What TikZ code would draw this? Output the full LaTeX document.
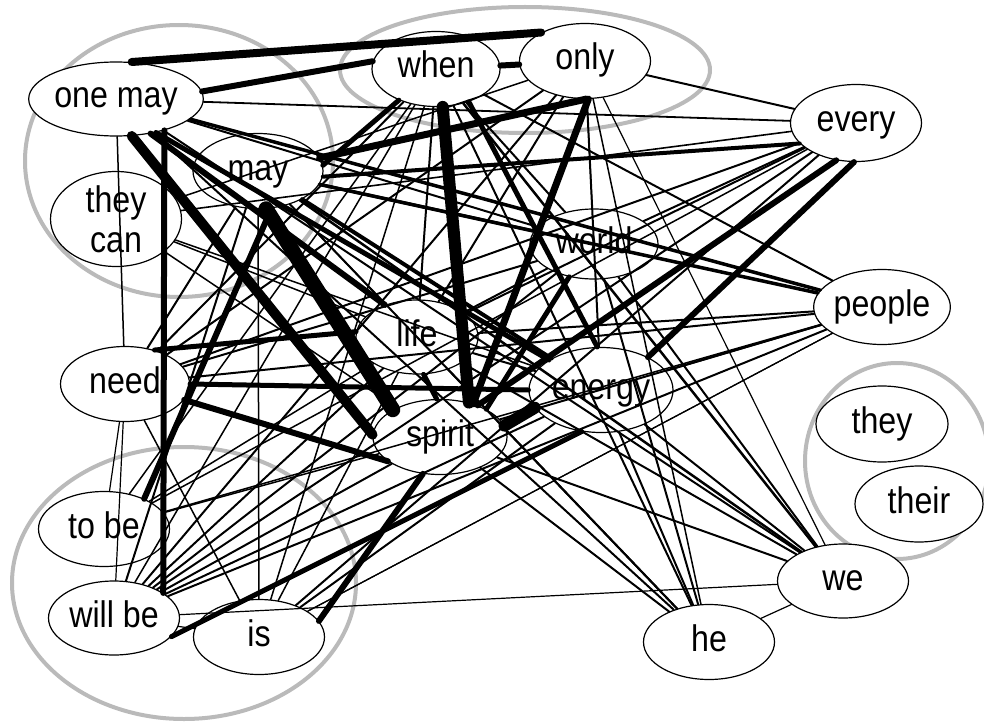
\documentclass[tikz,border=0pt]{standalone}
\usepackage{fontspec}
\setmainfont[FakeStretch=0.87]{Liberation Sans}
\usetikzlibrary{shapes.geometric}
\begin{document}
\begin{tikzpicture}[x=1pt,y=-1pt,
  wbase/.style={ellipse,draw,fill=white,line width=1.2pt,inner sep=0pt,
    minimum width=131pt,minimum height=75pt,
    font=\fontsize{37}{40}\selectfont},
  word/.style={wbase,text height=26pt,text depth=8pt},
  grp/.style={draw=black!27,line width=4pt},
  lnk/.style={line cap=round,draw=black}]
\useasboundingbox (0,0) rectangle (984,722);
% cluster outlines
\draw[grp] (179,161) ellipse [x radius=154, y radius=136];
\draw[grp] (525,70) ellipse [x radius=185, y radius=63];
\draw[grp] (897,461) ellipse [x radius=92, y radius=98];
\draw[grp] (184,583) ellipse [x radius=172, y radius=136];
% words
\node[word,minimum width=154pt,minimum height=74pt] (om) at (116,99) {one may};
\node[word,minimum width=128pt] (wh) at (436,69) {when};
\node[word] (on) at (585,61) {only};
\node[word,minimum height=77pt] (ev) at (856,123) {every};
\node[word,minimum width=130pt] (ma) at (258,171) {may};
\node[wbase,align=center] (tc) at (116,219) {they\\can};
\node[word,minimum width=128pt,minimum height=70pt] (wo) at (594,244) {world};
\node[word,minimum width=130pt] (pe) at (882,307) {people};
\node[word,minimum width=122pt,minimum height=74pt] (li) at (417,337) {life};
\node[word,minimum width=129pt] (ne) at (125,384) {need};
\node[word,minimum width=144pt,minimum height=85pt] (en) at (601,390) {energy};
\node[word,minimum width=134pt] (sp) at (440,437) {spirit};
\node[word,minimum width=132pt,minimum height=76pt] (th) at (882,424) {they};
\node[word,minimum width=128pt,minimum height=76pt] (tr) at (919,504) {their};
\node[word] (tb) at (104,529) {to be};
\node[word,minimum height=74pt] (wb) at (114,618) {will be};
\node[word] (is) at (259,637) {is};
\node[word] (he) at (709,642) {he};
\node[word,minimum height=74pt] (we) at (843,581) {we};
% thin and medium links
\foreach \a/\b/\w in {om/ev/1.8, om/ne/1.5, om/wo/2, om/pe/3.5, om/we/2, om/he/2,
  tc/en/1.5, tc/sp/1.5, tc/ev/1.6, tc/li/1.5,
  ma/pe/3.5, ma/en/4, ma/wo/3, ma/we/2.5, ma/he/2, ma/wb/2, ma/is/1.5, ma/ne/2, ma/li/1.5,
  wh/li/2, wh/ne/2, wh/wb/1.5, wh/is/1.5, wh/wo/2, wh/pe/2, wh/he/2, wh/we/2.5, wh/tb/1.5,
  on/wo/1.2, on/en/2, on/he/1.5, on/we/1.2, on/ev/2, on/li/2, on/ne/2, on/wb/2, on/tc/1.5,
  ev/wo/2, ev/li/2, ev/wb/2, ev/is/2, ev/tb/1.5, ev/ne/2,
  wo/ne/2, wo/wb/2, wo/he/2, wo/we/2, wo/pe/2, wo/li/2,
  pe/li/2, pe/ne/2, pe/wb/2, pe/en/2, pe/sp/2, pe/tb/1.5, pe/is/1.2,
  li/wb/2, li/tb/1.5, li/he/2, li/we/2, li/is/1.5,
  en/wb/2, en/is/2, en/he/2, en/we/2, en/li/2,
  sp/wb/2, sp/tb/1.5, sp/he/2, sp/we/2,
  ne/wb/1.2, ne/is/1.5, ne/tb/1.2, wb/we/1.2, wb/is/1.2, is/pe/1.2, he/we/1.2}
  \draw[lnk,line width=\w pt] (\a) -- (\b);
% heavy links
\draw[lnk,line width=8pt] (om.67) -- (on.147);
\draw[lnk,line width=6pt] (om.5) -- (wh.173);
\draw[lnk,line width=6pt] (wh) -- (on);
\draw[lnk,line width=10pt] (om.-67) -- (sp.178);
\draw[lnk,line width=15pt] (ma.-78) -- (sp.150);
\draw[lnk,line width=6pt] (om.-33) -- (wb.27);
\draw[lnk,line width=7pt] (ma.12) -- (on.-88);
\draw[lnk,line width=7pt] (on.-85) -- (sp.45);
\draw[lnk,line width=12pt] (wh.-80) -- (sp.50);
\draw[lnk,line width=5pt] (ne.49) -- (li.175);
\draw[lnk,line width=5pt] (ne.east) -- (en.west);
\draw[lnk,line width=6pt] (ne.-15) -- (sp.205);
\draw[lnk,line width=6pt] (tb.37) -- (ma.-70);
\draw[lnk,line width=5pt] (wb.-18) -- (en.-115);
\draw[lnk,line width=6pt] (is.15) -- (sp.-115);
\draw[lnk,line width=12pt] (sp.10) -- (en.195);
\draw[lnk,line width=6pt] (ev.-93) -- (en.35);
\draw[lnk,line width=6pt] (ev.-118) -- (sp.40);
\draw[lnk,line width=5pt] (wh.-45) -- (en.95);
\draw[lnk,line width=5pt] (wh.-140) -- (ma.5);
\draw[lnk,line width=4pt] (ev.-160) -- (ma.-5);
\draw[lnk,line width=6pt] (om.-45) -- (li.135);
\draw[lnk,line width=5pt] (om.-40) -- (en.150);
\draw[lnk,line width=5pt] (wo.-127) -- (sp.31);
\draw[lnk,line width=5pt] (li.-80) -- (sp.95);
\end{tikzpicture}
\end{document}
